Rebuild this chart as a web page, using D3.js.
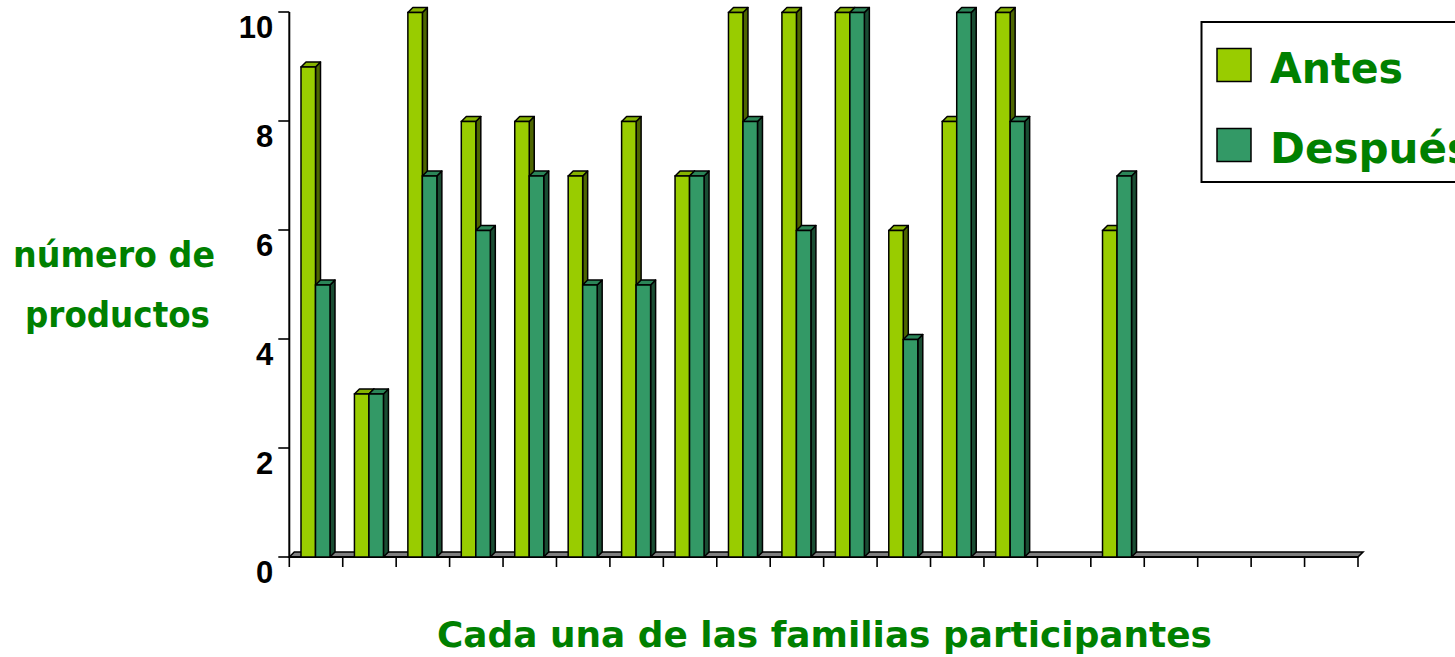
<!DOCTYPE html>
<html>
<head>
<meta charset="utf-8">
<script src="https://cdn.jsdelivr.net/npm/d3@7"></script>
<style>
  html, body { margin: 0; padding: 0; background: #fff; }
  svg { display: block; }
  .ttl { font-family: "Comic Sans MS", "DejaVu Sans", sans-serif; font-weight: bold; fill: #008000; }
  .tick-lbl { font-family: "Liberation Sans", Arial, sans-serif; font-weight: bold; font-size: 31px; fill: #000; }
</style>
</head>
<body>
<svg id="chart" width="1455" height="657"></svg>
<script>
// Families (20 slots on the category axis) and products counted before / after
const familias = d3.range(1, 21).map(String);
const antes   = [9, 3, 10, 8, 8, 7, 8, 7, 10, 10, 10, 6, 8, 10, 0, 6, 0, 0, 0, 0];
const despues = [5, 3, 7, 6, 7, 5, 5, 7, 8, 6, 10, 4, 10, 8, 0, 7, 0, 0, 0, 0];
const yTicks  = [0, 2, 4, 6, 8, 10];
const seriesNames = ["Antes", "Después"];

const svg = d3.select("#chart");

const x = d3.scaleBand().domain(familias).range([289.3, 1358]).padding(0);
const y = d3.scaleLinear().domain([0, 10]).range([557, 12]);
const groupW = 29;
const sub = d3.scaleBand().domain(seriesNames).range([0, groupW]).padding(0);
const groupOffset = 11.7;

// 3D depth of the columns
const dx = 5, dy = -5;

const palette = {
  "Antes":   { front: "#99cc00", top: "#86b300", side: "#4d6600" },
  "Después": { front: "#339966", top: "#2b8558", side: "#1a4d33" }
};

// floor slab
const x0 = x.range()[0], x1 = x.range()[1];
const yb = y(0);
svg.append("path")
  .attr("d", `M${x0},${yb} L${x0 + dx},${yb + dy} L${x1 + dx},${yb + dy} L${x1},${yb} Z`)
  .attr("fill", "#7f7f7f").attr("stroke", "#000").attr("stroke-width", 1.6);

// vertical axis
const yAxisG = svg.append("g").attr("transform", `translate(${x0},0)`);
yAxisG.append("line").attr("x1", 0).attr("x2", 0).attr("y1", y(10)).attr("y2", y(0))
  .attr("stroke", "#000").attr("stroke-width", 2);
yAxisG.selectAll(".yt").data(yTicks).join("line")
  .attr("x1", -11).attr("x2", 0).attr("y1", d => y(d)).attr("y2", d => y(d))
  .attr("stroke", "#000").attr("stroke-width", 1.6);
yAxisG.selectAll(".tick-lbl").data(yTicks).join("text")
  .attr("class", "tick-lbl")
  .attr("x", -16).attr("y", d => y(d) + 26)
  .attr("text-anchor", "end")
  .text(d => d);

// horizontal axis
svg.append("line").attr("x1", x0).attr("x2", x1).attr("y1", yb).attr("y2", yb)
  .attr("stroke", "#000").attr("stroke-width", 2);
const xTickPos = familias.map(f => x(f)).concat([x1]);
svg.selectAll(".xt").data(xTickPos).join("line")
  .attr("x1", d => d).attr("x2", d => d).attr("y1", yb).attr("y2", yb + 10)
  .attr("stroke", "#000").attr("stroke-width", 1.6);

// columns
const bars = [];
familias.forEach((f, i) => {
  bars.push({ f, s: "Antes", v: antes[i] });
  bars.push({ f, s: "Después", v: despues[i] });
});

const g = svg.append("g");
bars.filter(b => b.v > 0).forEach(b => {
  const bx0 = x(b.f) + groupOffset + sub(b.s);
  const bx1 = bx0 + sub.bandwidth();
  const yt = y(b.v) + 0.5;
  const c = palette[b.s];
  // side face
  g.append("path")
    .attr("d", `M${bx1},${yt} L${bx1 + dx},${yt + dy} L${bx1 + dx},${yb + dy} L${bx1},${yb} Z`)
    .attr("fill", c.side).attr("stroke", "#000").attr("stroke-width", 1.5).attr("stroke-linejoin", "round");
  // top face
  g.append("path")
    .attr("d", `M${bx0},${yt} L${bx0 + dx},${yt + dy} L${bx1 + dx},${yt + dy} L${bx1},${yt} Z`)
    .attr("fill", c.top).attr("stroke", "#000").attr("stroke-width", 1.5).attr("stroke-linejoin", "round");
  // front face
  g.append("rect")
    .attr("x", bx0).attr("y", yt).attr("width", bx1 - bx0).attr("height", yb - yt)
    .attr("fill", c.front).attr("stroke", "#000").attr("stroke-width", 1.5);
});

// axis titles
svg.append("text").attr("class", "ttl")
  .attr("x", 437).attr("y", 647).attr("font-size", 35)
  .attr("textLength", 775).attr("lengthAdjust", "spacingAndGlyphs")
  .text("Cada una de las familias participantes");
svg.append("text").attr("class", "ttl")
  .attr("x", 13).attr("y", 267).attr("font-size", 35)
  .attr("textLength", 202).attr("lengthAdjust", "spacingAndGlyphs")
  .text("número de");
svg.append("text").attr("class", "ttl")
  .attr("x", 25).attr("y", 327).attr("font-size", 35)
  .attr("textLength", 185).attr("lengthAdjust", "spacingAndGlyphs")
  .text("productos");

// legend
const lg = svg.append("g");
lg.append("rect").attr("x", 1201.5).attr("y", 22).attr("width", 270).attr("height", 160)
  .attr("fill", "#fff").attr("stroke", "#000").attr("stroke-width", 2);
const legendRows = [
  { s: "Antes", sy: 48.5, ty: 83, w: 133 },
  { s: "Después", sy: 128.5, ty: 163, w: 202 }
];
legendRows.forEach(r => {
  lg.append("rect").attr("x", 1217).attr("y", r.sy).attr("width", 34).attr("height", 33)
    .attr("fill", palette[r.s].front).attr("stroke", "#000").attr("stroke-width", 1.5);
  lg.append("text").attr("class", "ttl")
    .attr("x", 1270).attr("y", r.ty).attr("font-size", 43)
    .attr("textLength", r.w).attr("lengthAdjust", "spacingAndGlyphs")
    .text(r.s);
});
</script>
</body>
</html>
